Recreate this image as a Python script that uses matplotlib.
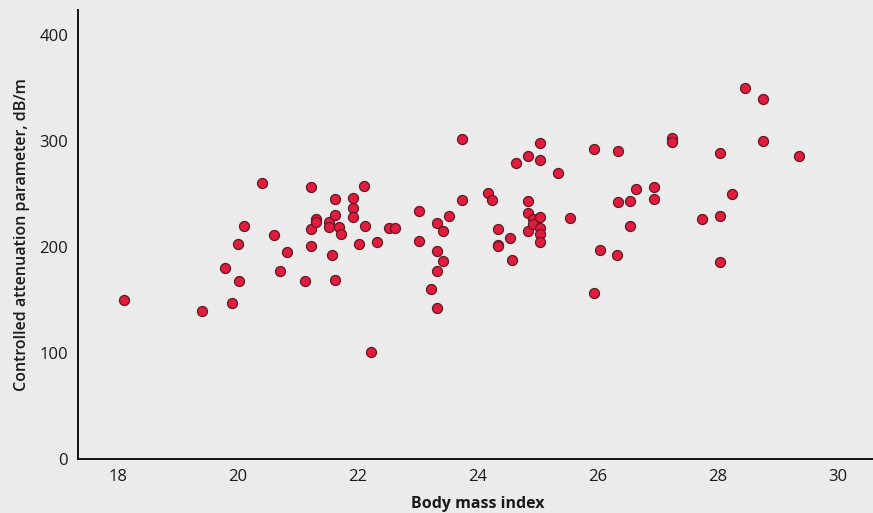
import numpy as np
import matplotlib.pyplot as plt

plt.rcParams['font.family'] = ['Open Sans', 'DejaVu Sans']

# body mass index (x) and CAP in dB/m (y)
bmi = [18.1, 19.4, 19.9, 19.78, 20.0, 20.01, 20.1, 20.4, 20.6, 20.7, 20.81,
       21.12, 21.22, 21.22, 21.22, 21.3, 21.3, 21.51, 21.51, 21.57, 21.61, 21.62,
       21.61, 21.68, 21.72, 21.92, 21.92, 21.92, 22.02, 22.1, 22.12, 22.22, 22.32,
       22.52, 22.62, 23.02, 23.02, 23.22, 23.32, 23.32, 23.32, 23.32, 23.42, 23.42,
       23.52, 23.73, 23.73, 24.16, 24.23, 24.33, 24.33, 24.33, 24.53, 24.56, 24.63,
       24.83, 24.83, 24.83, 24.83, 24.92, 24.92, 25.03, 25.03, 25.03, 25.03, 25.03,
       25.03, 25.33, 25.53, 25.93, 25.93, 26.04, 26.32, 26.34, 26.34, 26.53, 26.54,
       26.64, 26.94, 26.94, 27.24, 27.24, 27.74, 28.04, 28.04, 28.04, 28.24, 28.45,
       28.75, 28.75, 29.35]
cap = [150, 140, 147, 180, 203, 168, 220, 260, 211, 177, 195,
       168, 256.6, 217, 201, 226, 224, 224, 219, 192, 245, 169,
       230.5, 219, 212, 246.5, 237, 228, 203, 257.5, 220, 100.7, 205,
       218, 218, 234, 206, 160, 223, 196, 177, 142, 215, 187,
       229, 301.6, 244.3, 250.6, 244.3, 217.3, 202, 201, 208.5, 188, 279,
       285.8, 243.4, 232.4, 215.4, 226, 221.7, 297.8, 281.8, 228.6, 217.6, 212,
       205, 269.5, 227.4, 292.5, 157, 196.9, 192, 290.9, 242, 220, 243.4,
       254.7, 256.6, 245.3, 302.5, 298.8, 226, 288.4, 229.5, 186, 250.3, 349.7,
       339.6, 299.7, 285.5]

bg = '#ebebeb'
fig = plt.figure(figsize=(8.73, 5.13), dpi=100, facecolor=bg)
ax = fig.add_axes([0.0893, 0.1053, 0.9107, 0.8752], facecolor=bg)

ax.scatter(bmi, cap, s=52, c='#e31c3d', edgecolors='#5c1a26', linewidths=0.9, zorder=3)

ax.set_xlim(17.333, 30.583)
ax.set_ylim(0, 423.5)
ax.set_xticks([18, 20, 22, 24, 26, 28, 30])
ax.set_yticks([0, 100, 200, 300, 400])
ax.tick_params(length=0, labelsize=12, colors='#1a1a1a', pad=7)
for s in ['top', 'right']:
    ax.spines[s].set_visible(False)
for s in ['left', 'bottom']:
    ax.spines[s].set_linewidth(1.4)
    ax.spines[s].set_color('#111111')

ax.set_xlabel('Body mass index', fontsize=11.5, fontweight='bold', color='#1a1a1a')
ax.xaxis.set_label_coords(0.503, -0.083)
ax.set_ylabel('Controlled attenuation parameter, dB/m', fontsize=11.5,
              fontweight='semibold', color='#1a1a1a')
ax.yaxis.set_label_coords(-0.06, 0.5)

fig.savefig('out.png', dpi=100, facecolor=bg)
